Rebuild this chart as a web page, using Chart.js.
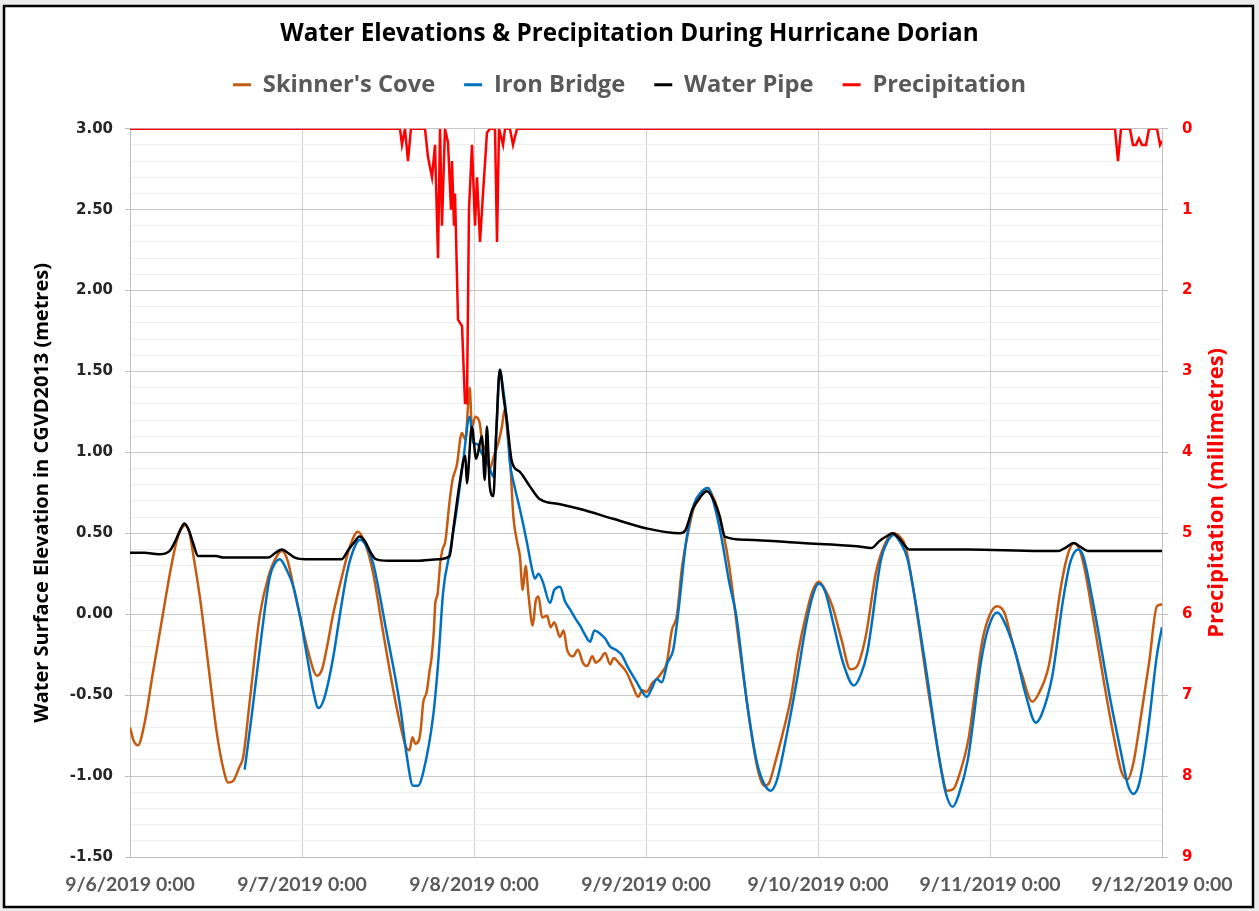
<!DOCTYPE html>
<html>
<head>
<meta charset="utf-8">
<title>Water Elevations &amp; Precipitation During Hurricane Dorian</title>
<script src="https://cdn.jsdelivr.net/npm/chart.js@4.4.1/dist/chart.umd.min.js"></script>
<style>
  html, body { margin: 0; padding: 0; background: #ffffff; }
  canvas { display: block; }
</style>
</head>
<body>
<canvas id="chart" width="1259" height="911"></canvas>
<script>
// Time axis: hours after 9/6/2019 0:00
const dayLabels = ['9/6/2019 0:00', '9/7/2019 0:00', '9/8/2019 0:00', '9/9/2019 0:00',
                   '9/10/2019 0:00', '9/11/2019 0:00', '9/12/2019 0:00'];

// Skinner's Cove water level (m, CGVD2013)
const skinnersHours = [0, 0.5, 1.1, 2.0, 3.2, 4.4, 5.6, 6.5, 7.2, 7.7, 8.3, 9.0, 9.8, 11.0, 12.1, 13.0, 13.7, 14.4, 15.2, 15.8,
  16.8, 18.1, 19.3, 20.5, 21.2, 22.0, 23.0, 23.7, 24.8, 26.1, 26.8, 27.5, 28.3, 29.5, 30.7, 31.8, 32.7, 33.9, 35.2, 36.7,
  37.8, 38.5, 39.0, 39.4, 39.8, 40.3, 40.6, 40.9, 41.4, 41.8, 42.1, 42.4, 42.6, 42.9, 43.3, 43.6, 44.0, 44.6, 45.0, 45.6,
  46.3, 46.8, 47.4, 47.7, 48.2, 48.8, 49.3, 49.8, 50.2, 50.8, 51.4, 51.9, 52.3, 52.7, 53.0, 53.5, 54.0, 54.4, 54.8, 55.2,
  55.6, 56.2, 56.6, 57.0, 57.5, 58.2, 58.7, 59.2, 60.0, 60.5, 61.0, 61.8, 62.5, 63.2, 63.8, 64.5, 65.0, 65.6, 66.3, 67.0,
  67.5, 68.2, 69.3, 70.2, 70.9, 71.5, 72.1, 72.8, 73.5, 74.2, 74.9, 75.6, 76.3, 77.0, 77.9, 78.7, 79.4, 80.0, 80.5, 81.2,
  82.0, 82.8, 83.6, 85.1, 86.7, 87.6, 88.5, 89.2, 90.0, 91.0, 92.2, 93.3, 94.3, 95.2, 96.1, 97.0, 98.0, 99.3, 100.5, 101.3,
  102.6, 104.1, 105.4, 106.6, 107.4, 108.2, 109.2, 110.2, 111.3, 112.3, 113.2, 114.0, 114.9, 115.8, 117.0, 118.0, 118.9, 120.0, 121.0, 122.0,
  123.0, 124.5, 125.9, 126.8, 128.2, 129.0, 129.9, 130.8, 131.7, 132.5, 133.3, 134.5, 135.9, 137.2, 138.4, 139.2, 140.0, 141.0, 142.2, 143.3, 144.0];
const skinnersLevel = [-0.70, -0.78, -0.81, -0.68, -0.36, -0.05, 0.26, 0.45, 0.53, 0.55, 0.50, 0.32, 0.09, -0.34, -0.73, -0.95, -1.04, -1.03, -0.95, -0.88,
  -0.50, -0.01, 0.23, 0.36, 0.39, 0.33, 0.13, -0.01, -0.22, -0.38, -0.34, -0.20, -0.01, 0.22, 0.42, 0.51, 0.45, 0.26, -0.08, -0.46,
  -0.70, -0.82, -0.84, -0.76, -0.80, -0.78, -0.70, -0.55, -0.48, -0.35, -0.26, -0.10, 0.07, 0.12, 0.32, 0.40, 0.45, 0.70, 0.83, 0.92,
  1.12, 1.08, 1.40, 1.16, 1.22, 1.18, 1.02, 1.05, 0.90, 0.98, 1.06, 1.16, 1.27, 1.10, 0.98, 0.60, 0.45, 0.36, 0.15, 0.30,
  0.12, -0.07, 0.08, 0.11, -0.02, -0.01, -0.08, -0.05, -0.14, -0.10, -0.22, -0.26, -0.22, -0.30, -0.32, -0.26, -0.30, -0.28, -0.24, -0.31,
  -0.27, -0.30, -0.36, -0.45, -0.51, -0.47, -0.48, -0.43, -0.40, -0.36, -0.30, -0.10, -0.01, 0.28, 0.51, 0.66, 0.71, 0.76, 0.78, 0.74,
  0.65, 0.50, 0.30, -0.22, -0.73, -0.96, -1.06, -1.04, -0.92, -0.75, -0.52, -0.22, -0.01, 0.14, 0.20, 0.15, 0.05, -0.16, -0.34, -0.33,
  -0.15, 0.26, 0.44, 0.50, 0.48, 0.42, 0.18, -0.11, -0.45, -0.73, -0.96, -1.09, -1.08, -0.98, -0.77, -0.45, -0.17, 0.00, 0.05, 0.01,
  -0.15, -0.38, -0.54, -0.49, -0.32, -0.10, 0.17, 0.36, 0.44, 0.40, 0.26, -0.05, -0.42, -0.74, -0.98, -1.02, -0.92, -0.65, -0.30, 0.05, 0.06];

// Iron Bridge water level (m, CGVD2013)
const ironHours = [16.0, 17.0, 18.1, 19.5, 20.3, 20.9, 21.8, 22.8, 23.8, 24.7, 25.6, 26.3, 27.1, 28.3, 29.3, 30.3, 31.2, 32.1, 33.0, 33.9,
  35.8, 37.7, 38.6, 39.5, 40.2, 40.9, 42.3, 43.0, 43.7, 44.7, 45.6, 46.5, 47.4, 47.9, 48.5, 49.0, 49.6, 50.2, 50.7, 51.2,
  51.6, 52.1, 52.6, 53.0, 53.6, 54.4, 55.4, 56.0, 56.5, 57.0, 57.6, 58.6, 59.2, 60.0, 60.7, 61.4, 62.2, 62.8, 63.4, 64.2,
  64.8, 65.6, 66.3, 67.0, 67.8, 68.6, 69.5, 70.7, 71.5, 72.1, 72.8, 73.5, 74.2, 75.0, 75.8, 76.6, 77.6, 78.7, 79.6, 80.7,
  81.5, 82.5, 83.6, 84.6, 86.1, 87.4, 88.5, 89.4, 90.3, 91.7, 93.0, 94.4, 95.3, 96.1, 97.0, 98.2, 99.5, 101.0, 102.0, 102.9,
  104.8, 105.7, 106.6, 107.4, 108.5, 110.8, 112.7, 113.8, 114.8, 115.6, 116.9, 118.8, 119.8, 121.0, 121.8, 123.5, 125.0, 126.4, 127.2, 128.7,
  130.2, 131.2, 132.3, 133.0, 134.3, 136.8, 138.4, 139.2, 140.0, 140.8, 142.0, 143.3, 144.0];
const ironLevel = [-0.96, -0.62, -0.22, 0.23, 0.32, 0.34, 0.28, 0.17, -0.03, -0.26, -0.48, -0.58, -0.52, -0.28, 0.00, 0.26, 0.40, 0.46, 0.42, 0.32,
  -0.11, -0.57, -0.87, -1.06, -1.06, -0.98, -0.63, -0.30, 0.14, 0.40, 0.65, 0.95, 1.22, 1.06, 1.05, 1.00, 0.96, 0.90, 0.85, 1.20,
  1.51, 1.38, 1.19, 0.94, 0.80, 0.65, 0.44, 0.30, 0.22, 0.25, 0.20, 0.07, 0.15, 0.17, 0.08, 0.03, -0.03, -0.07, -0.12, -0.17,
  -0.10, -0.12, -0.15, -0.20, -0.22, -0.25, -0.33, -0.42, -0.48, -0.51, -0.46, -0.40, -0.42, -0.30, -0.22, 0.05, 0.45, 0.68, 0.75, 0.78,
  0.68, 0.48, 0.20, -0.01, -0.55, -0.90, -1.05, -1.09, -1.02, -0.73, -0.42, -0.05, 0.12, 0.19, 0.14, -0.07, -0.30, -0.44, -0.37, -0.23,
  0.34, 0.45, 0.49, 0.45, 0.34, -0.26, -0.83, -1.10, -1.19, -1.12, -0.90, -0.28, -0.08, 0.01, -0.03, -0.23, -0.50, -0.67, -0.62, -0.38,
  0.09, 0.32, 0.40, 0.36, 0.09, -0.53, -0.88, -1.05, -1.11, -1.05, -0.73, -0.25, -0.08];

// Water Pipe water level (m, CGVD2013)
const pipeHours = [0, 2, 4, 5.5, 6.3, 7.0, 7.6, 8.2, 8.8, 9.5, 12, 13, 19.3, 20.3, 21.2, 22.0, 23.0, 24.5, 29.5, 30.5,
  31.4, 32.0, 32.8, 33.6, 34.3, 36, 40, 43, 44.6, 45.1, 46.0, 46.8, 47.0, 47.7, 48.3, 49.1, 49.5, 49.8, 50.2, 50.7,
  51.1, 51.6, 52.1, 52.6, 53.3, 54.4, 55.8, 57.2, 60, 62.8, 67.4, 72.1, 76.7, 77.5, 78.5, 79.5, 80.5, 81.5, 82.3, 83.0,
  86, 93.8, 101.4, 103.5, 104.5, 105.5, 106.4, 107.3, 108.2, 108.7, 117, 127, 129.5, 130.5, 131.7, 132.5, 133.8, 144];
const pipeLevel = [0.38, 0.38, 0.37, 0.39, 0.45, 0.52, 0.56, 0.52, 0.44, 0.36, 0.36, 0.35, 0.35, 0.38, 0.40, 0.38, 0.35, 0.34, 0.34, 0.40,
  0.45, 0.48, 0.45, 0.38, 0.34, 0.33, 0.33, 0.34, 0.36, 0.52, 0.81, 0.98, 0.81, 1.16, 0.96, 1.10, 0.83, 1.16, 0.79, 0.73,
  1.12, 1.51, 1.35, 1.19, 0.94, 0.88, 0.79, 0.71, 0.68, 0.65, 0.59, 0.53, 0.50, 0.52, 0.65, 0.72, 0.76, 0.70, 0.60, 0.48,
  0.46, 0.44, 0.42, 0.41, 0.45, 0.48, 0.50, 0.47, 0.42, 0.40, 0.40, 0.39, 0.39, 0.41, 0.44, 0.42, 0.39, 0.39];

// Precipitation (mm), plotted on the inverted right axis
const rainHours = [0, 37.67, 37.95, 38.37, 38.79, 39.2, 41.16, 41.58, 42.14, 42.56, 42.98, 43.26, 43.53, 43.95, 44.37, 44.79, 44.93, 45.21, 45.35, 45.77,
  46.33, 46.74, 47.02, 47.30, 47.72, 48.14, 48.42, 48.84, 49.26, 49.81, 50.23, 50.93, 51.21, 51.49, 52.05, 52.33, 53.02, 53.44, 54.0,
  137.44, 137.86, 138.28, 139.53, 139.95, 140.37, 140.79, 141.21, 141.77, 142.19, 143.3, 143.72, 144.0];
const rainMm = [0, 0, 0.2, 0, 0.4, 0, 0, 0.35, 0.6, 0.2, 1.6, 0, 1.2, 0, 0.17, 1.0, 0.4, 1.2, 0.8, 2.36,
  2.44, 3.39, 3.39, 1.0, 0.2, 1.2, 0.6, 1.4, 0.8, 0.05, 0, 0, 1.4, 0, 0.2, 0, 0, 0.2, 0,
  0, 0.4, 0, 0, 0.2, 0.2, 0.12, 0.2, 0.2, 0, 0, 0.2, 0.15];

// Axis ranges
const elevationMin = -1.5, elevationMax = 3.0;
const rainTicksMax = 9;

const toPoints = (xs, ys) => xs.map((x, i) => ({ x: x, y: ys[i] }));
const isMajor = v => Math.abs(v * 2 - Math.round(v * 2)) < 1e-6;

const headFont = 'Open Sans';
const labelFont = 'Lato';
const tickFont = 'DejaVu Sans';

// White page with a thin black frame round the chart
const framePlugin = {
  id: 'frame',
  beforeDraw(chart) {
    const ctx = chart.ctx;
    ctx.save();
    ctx.fillStyle = '#ececec';
    ctx.fillRect(0, 0, chart.width, chart.height);
    ctx.fillStyle = '#ffffff';
    ctx.fillRect(4, 6, 1249, 901);
    ctx.strokeStyle = '#000000';
    ctx.lineWidth = 2.5;
    ctx.strokeRect(4, 6, 1249, 901);
    ctx.restore();
  }
};

// Extra room between the legend row and the plot
const legendGapPlugin = {
  id: 'legendGap',
  beforeLayout(chart) {
    const lg = chart.legend;
    if (lg && !lg.__gapAdded) {
      const fit = lg.fit;
      lg.fit = function () { fit.call(this); this.height += 22; };
      lg.__gapAdded = true;
    }
  }
};

// Right-hand axis title, reading bottom to top
const rightTitlePlugin = {
  id: 'rightTitle',
  afterDraw(chart) {
    const ctx = chart.ctx;
    const area = chart.chartArea;
    ctx.save();
    ctx.translate(1217, (area.top + area.bottom) / 2);
    ctx.rotate(-Math.PI / 2);
    ctx.font = 'bold 22px "' + headFont + '"';
    ctx.fillStyle = '#ff0000';
    ctx.textAlign = 'center';
    ctx.textBaseline = 'middle';
    ctx.fillText('Precipitation (millimetres)', 0, 0);
    ctx.restore();
  }
};

new Chart(document.getElementById('chart'), {
  type: 'line',
  data: {
    datasets: [
      {
        label: "Skinner's Cove",
        data: toPoints(skinnersHours, skinnersLevel),
        borderColor: '#c55a11', backgroundColor: '#c55a11',
        borderWidth: 2.5, pointRadius: 0, cubicInterpolationMode: 'monotone',
        yAxisID: 'y', order: 4
      },
      {
        label: 'Iron Bridge',
        data: toPoints(ironHours, ironLevel),
        borderColor: '#0070c0', backgroundColor: '#0070c0',
        borderWidth: 2.5, pointRadius: 0, cubicInterpolationMode: 'monotone',
        yAxisID: 'y', order: 3
      },
      {
        label: 'Water Pipe',
        data: toPoints(pipeHours, pipeLevel),
        borderColor: '#000000', backgroundColor: '#000000',
        borderWidth: 2.5, pointRadius: 0, cubicInterpolationMode: 'monotone',
        yAxisID: 'y', order: 2
      },
      {
        label: 'Precipitation',
        data: toPoints(rainHours, rainMm),
        borderColor: '#ff0000', backgroundColor: '#ff0000',
        borderWidth: 2.5, pointRadius: 0, tension: 0,
        yAxisID: 'y2', order: 1
      }
    ]
  },
  options: {
    responsive: false,
    animation: false,
    layout: { padding: { top: 0, left: 0, right: 0, bottom: 0 } },
    plugins: {
      title: {
        display: true,
        text: 'Water Elevations & Precipitation During Hurricane Dorian',
        color: '#000000',
        font: { family: headFont, size: 24.3, weight: 'bold', lineHeight: 1.0 },
        padding: { top: 21.5, bottom: -1.8 }
      },
      legend: {
        display: true,
        position: 'top',
        labels: {
          color: '#595959',
          font: { family: headFont, size: 23.7, weight: 'bold' },
          boxWidth: 18, boxHeight: 3, padding: 29,
          sort: (a, b) => a.datasetIndex - b.datasetIndex,
          generateLabels(chart) {
            return Chart.defaults.plugins.legend.labels.generateLabels(chart).map(item => {
              item.lineWidth = 0;
              item.fillStyle = item.strokeStyle;
              return item;
            });
          }
        }
      },
      tooltip: { enabled: false }
    },
    scales: {
      x: {
        type: 'linear',
        min: 0, max: 144,
        afterFit(scale) { scale.height = 54; },
        ticks: {
          stepSize: 24, autoSkip: false, maxRotation: 0, padding: 16,
          color: '#595959',
          font: { family: labelFont, size: 19.5, weight: 'bold' },
          callback: v => dayLabels[Math.round(v / 24)]
        },
        grid: { color: '#d0d0d0', lineWidth: 1, drawTicks: false },
        border: { color: '#bfbfbf', width: 1 }
      },
      y: {
        type: 'linear', position: 'left',
        min: elevationMin, max: elevationMax,
        afterFit(scale) { scale.width = 130; },
        ticks: {
          stepSize: 0.1, maxTicksLimit: 100, autoSkip: false, padding: 12,
          color: '#262626',
          font: { family: tickFont, size: 15, weight: 'bold' },
          callback: v => isMajor(v) ? v.toFixed(2) : ''
        },
        grid: {
          color: c => isMajor(c.tick.value) ? '#c6c6c6' : '#eeeeee',
          tickColor: c => isMajor(c.tick.value) ? '#bfbfbf' : 'rgba(0,0,0,0)',
          tickLength: 5, lineWidth: 1
        },
        border: { color: '#bfbfbf', width: 1 },
        title: {
          display: true,
          text: 'Water Surface Elevation in CGVD2013 (metres)',
          color: '#000000',
          font: { family: headFont, size: 20, weight: 'bold', lineHeight: 1.2 },
          padding: { top: 30, bottom: 0 }
        }
      },
      y2: {
        type: 'linear', position: 'right',
        min: 0, max: rainTicksMax, reverse: true,
        afterFit(scale) { scale.width = 97; },
        ticks: {
          stepSize: 1, autoSkip: false, padding: 14,
          color: '#ff0000',
          font: { family: tickFont, size: 15, weight: 'bold' }
        },
        grid: { drawOnChartArea: false, color: '#bfbfbf', tickLength: 6 },
        border: { color: '#bfbfbf', width: 1 }
      }
    }
  },
  plugins: [framePlugin, legendGapPlugin, rightTitlePlugin]
});
</script>
</body>
</html>
